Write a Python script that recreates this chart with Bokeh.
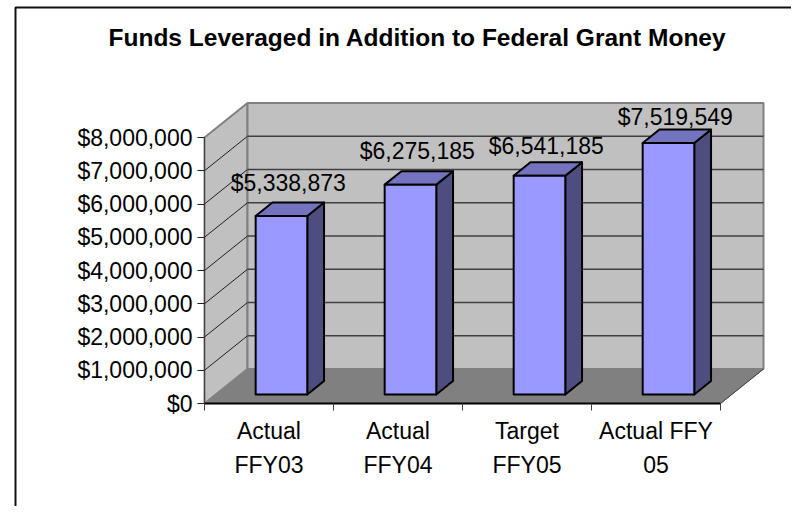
from bokeh.plotting import figure
from bokeh.models import FixedTicker, LinearAxis
from bokeh.core.properties import value
from bokeh.embed import file_html
from bokeh.resources import INLINE

# ---- data ----
categories_line1 = ["Actual", "Actual", "Target", "Actual FFY"]
categories_line2 = ["FFY03", "FFY04", "FFY05", "05"]
funds = [5338873, 6275185, 6541185, 7519549]
fund_labels = ["$5,338,873", "$6,275,185", "$6,541,185", "$7,519,549"]
y_ticks = [0, 1000000, 2000000, 3000000, 4000000, 5000000, 6000000, 7000000, 8000000]
y_labels = ["$0", "$1,000,000", "$2,000,000", "$3,000,000", "$4,000,000",
            "$5,000,000", "$6,000,000", "$7,000,000", "$8,000,000"]
title = "Funds Leveraged in Addition to Federal Grant Money"

# ---- layout ----
W, H = 791, 506
X0, Y0 = 204.0, 403.0         # category 0 / value 0 on the front plane
PX_X = 129.0                  # pixels per category
PX_Y = 33.25 / 1e6            # pixels per dollar
BAR_SCALE = 1.006             # bars stand slightly nearer than the axis plane
DEPTH_X, DEPTH_Y = 43.0, 34.5 # pixel shift from front to back of the 3-D box
BAR_LEFT, BAR_W = 0.31, 0.40
BAR_Z0, BAR_Z1 = 0.26, 0.65   # bar front/back as a fraction of the depth
LABEL_ANCHOR_PX = [182.5, 150.5, 145.5, 116.5]  # vertical label positions, page pixels
FONT = "Liberation Sans"
TICK_SIZE = "23px"

p = figure(width=W, height=H, output_backend="svg", toolbar_location=None,
           x_range=(-X0 / PX_X, (W - X0) / PX_X),
           y_range=((Y0 - H) / PX_Y, Y0 / PX_Y),
           min_border=0, min_border_left=0, min_border_right=0,
           min_border_top=0, min_border_bottom=0,
           x_axis_type=None, y_axis_type=None)
p.grid.visible = False
p.outline_line_color = None
p.background_fill_color = "white"


def project(cat, val, z):
    """Oblique projection of (category, dollars, depth 0..1) into data space."""
    return cat + z * DEPTH_X / PX_X, val + z * DEPTH_Y / PX_Y


n_cat = len(funds)
top = y_ticks[-1]


def quad(pts):
    xs, ys = zip(*[project(*q) for q in pts])
    return list(xs), list(ys)


# walls and floor
wx, wy = quad([(0, 0, 0), (0, top, 0), (0, top, 1), (0, 0, 1)])
p.patch(wx, wy, fill_color="#C0C0C0", line_color="#808080", line_width=2)
bx, by = quad([(0, 0, 1), (0, top, 1), (n_cat, top, 1), (n_cat, 0, 1)])
p.patch(bx, by, fill_color="#C0C0C0", line_color="#808080", line_width=2)
fx, fy = quad([(0, 0, 0), (n_cat, 0, 0), (n_cat, 0, 1), (0, 0, 1)])
p.patch(fx, fy, fill_color="#808080", line_color="#808080", line_width=1)

# gridlines
for t in y_ticks[1:-1]:
    sx, sy = quad([(0, t, 0), (0, t, 1)])
    p.line(sx, sy, line_color="#202020", line_width=1)
    gx, gy = quad([(0, t, 1), (n_cat, t, 1)])
    p.line(gx, gy, line_color="#404040", line_width=1.5)
rx, ry = quad([(n_cat, 0, 0), (n_cat, 0, 1)])
p.line(rx, ry, line_color="#404040", line_width=1)

# bars
for i, amount in enumerate(funds):
    v = amount * BAR_SCALE
    l, r = i + BAR_LEFT, i + BAR_LEFT + BAR_W
    sx, sy = quad([(r, 0, BAR_Z0), (r, v, BAR_Z0), (r, v, BAR_Z1), (r, 0, BAR_Z1)])
    p.patch(sx, sy, fill_color="#4D4D80", line_color="black", line_width=2, line_join="round")
    tx, ty = quad([(l, v, BAR_Z0), (r, v, BAR_Z0), (r, v, BAR_Z1), (l, v, BAR_Z1)])
    p.patch(tx, ty, fill_color="#7373BF", line_color="black", line_width=2, line_join="round")
    ax, ay = quad([(l, 0, BAR_Z0), (l, v, BAR_Z0), (r, v, BAR_Z0), (r, 0, BAR_Z0)])
    p.patch(ax, ay, fill_color="#9999FF", line_color="black", line_width=2, line_join="round")

# data labels
lab_x = [project(i + BAR_LEFT + BAR_W / 2, v, BAR_Z1)[0] for i, v in enumerate(funds)]
lab_y = [(Y0 - a) / PX_Y for a in LABEL_ANCHOR_PX]
p.text(lab_x, lab_y, text=fund_labels, text_font=value(FONT), text_font_size=value(TICK_SIZE),
       text_color="black", text_align="center", text_baseline="alphabetic",
       x_offset=-10)

# title
p.text([(417 - X0) / PX_X], [(Y0 - 37) / PX_Y], text=[title], text_font=value(FONT),
       text_font_size=value("24.5px"), text_font_style="bold", text_color="black",
       text_align="center", text_baseline="alphabetic")

# picture frame: top and left edges only
p.line([(15 - X0) / PX_X, (15 - X0) / PX_X, (W - X0) / PX_X],
       [(Y0 - H) / PX_Y, (Y0 - 7) / PX_Y, (Y0 - 7) / PX_Y],
       line_color="#101010", line_width=2)

# axes
yax = LinearAxis(ticker=FixedTicker(ticks=y_ticks), fixed_location=0, bounds=(0, top),
                 major_label_overrides=dict(zip(y_ticks, y_labels)),
                 major_label_text_font=FONT, major_label_text_font_size=TICK_SIZE,
                 major_label_text_color="black", major_label_standoff=5,
                 axis_line_color="#404040", axis_line_width=1,
                 major_tick_line_color="#202020", major_tick_out=7, major_tick_in=0,
                 minor_tick_line_color=None)
p.add_layout(yax, "left")

centres = [i + 0.5 for i in range(n_cat)]
edges = list(range(n_cat + 1))
xax = LinearAxis(ticker=FixedTicker(ticks=centres, minor_ticks=edges), fixed_location=0,
                 bounds=(0, n_cat),
                 major_label_overrides=dict(zip(centres, categories_line1)),
                 major_label_text_font=FONT, major_label_text_font_size=TICK_SIZE,
                 major_label_text_color="black", major_label_standoff=7,
                 axis_line_color="black", axis_line_width=2,
                 major_tick_line_color=None, major_tick_out=0, major_tick_in=0,
                 minor_tick_line_color="#404040", minor_tick_out=7, minor_tick_in=0)
p.add_layout(xax, "below")
xax2 = LinearAxis(ticker=FixedTicker(ticks=centres), fixed_location=0,
                  major_label_overrides=dict(zip(centres, categories_line2)),
                  major_label_text_font=FONT, major_label_text_font_size=TICK_SIZE,
                  major_label_text_color="black", major_label_standoff=42,
                  axis_line_color=None, major_tick_line_color=None,
                  minor_tick_line_color=None)
p.add_layout(xax2, "below")

open("out.html", "w").write(file_html(p, INLINE))
